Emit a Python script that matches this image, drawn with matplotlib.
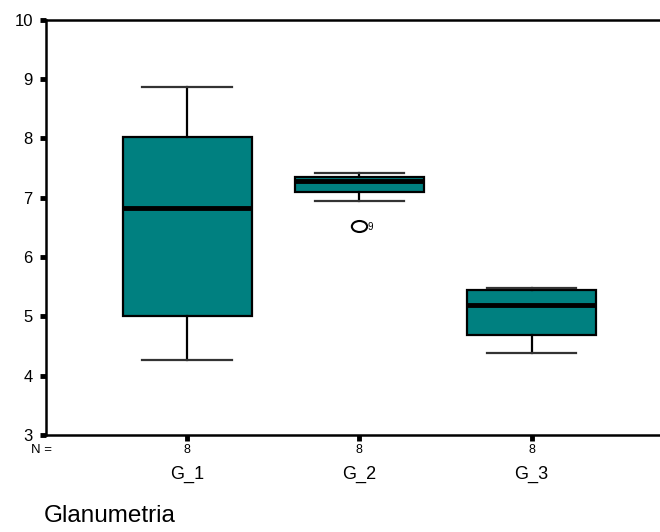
import numpy as np
import matplotlib.pyplot as plt
from matplotlib.path import Path
from matplotlib.transforms import blended_transform_factory

plt.rcParams['font.family'] = ['Liberation Sans', 'DejaVu Sans']

groups = ["G_1", "G_2", "G_3"]
counts = [8, 8, 8]
whislo = [4.27, 6.94, 4.38]
q1 = [5.00, 7.09, 4.68]
med = [6.83, 7.28, 5.20]
q3 = [8.02, 7.35, 5.45]
whishi = [8.86, 7.41, 5.48]
fliers = [[], [6.52], []]
flier_ids = [[], ["9"], []]

teal = "#008080"

stats = []
for i in range(len(groups)):
    stats.append(dict(label=groups[i], whislo=whislo[i], q1=q1[i], med=med[i],
                      q3=q3[i], whishi=whishi[i], fliers=[]))

fig = plt.figure(figsize=(6.6, 5.32), dpi=100)
ax = fig.add_axes([0.0697, 0.182, 0.9303, 0.781])

pos = np.arange(1, len(groups) + 1)
ax.bxp(stats, positions=pos, widths=0.75, capwidths=0.52, patch_artist=True,
       showfliers=False,
       boxprops=dict(facecolor=teal, edgecolor="black", linewidth=1.6),
       medianprops=dict(color="black", linewidth=3.5),
       whiskerprops=dict(color="black", linewidth=1.6),
       capprops=dict(color="#333333", linewidth=1.6))

# slightly flattened circle for outliers
circ = Path.unit_circle()
oval = Path(circ.vertices * [1.0, 0.72], circ.codes)

for i in range(len(groups)):
    for v, lab in zip(fliers[i], flier_ids[i]):
        ax.plot(pos[i], v, marker=oval, markersize=11, markerfacecolor="white",
                markeredgecolor="black", markeredgewidth=1.5, linestyle="none")
        ax.text(pos[i] + 0.05, v - 0.02, lab, fontsize=7, va="center", ha="left")

ax.set_xlim(0.18, 3.746)
ax.set_ylim(3, 10)
ax.set_yticks(range(3, 11))
ax.set_yticklabels([str(t) for t in range(3, 11)], fontsize=12)
ax.set_xticks(pos)
ax.set_xticklabels([])
ax.tick_params(axis="y", direction="out", length=4, width=3.5, pad=5.5)
ax.tick_params(axis="x", direction="out", length=4, width=3.5)

for s in ["left", "bottom", "top"]:
    ax.spines[s].set_linewidth(1.8)
ax.spines["right"].set_visible(False)

# N = label, counts and group names under the axis
tr = blended_transform_factory(ax.transData, ax.transAxes)
ax.text(-0.024, -0.036, "N =", transform=ax.transAxes, fontsize=9.5, ha="left", va="center")
for i, g in enumerate(groups):
    ax.text(pos[i], -0.036, str(counts[i]), transform=tr, fontsize=9,
            ha="center", va="center")
    ax.text(pos[i], -0.094, g, transform=tr, fontsize=13,
            ha="center", va="center")

fig.text(0.067, 0.018, "Glanumetria", fontsize=17.5, ha="left", va="baseline")

fig.savefig("out.png", dpi=100)
